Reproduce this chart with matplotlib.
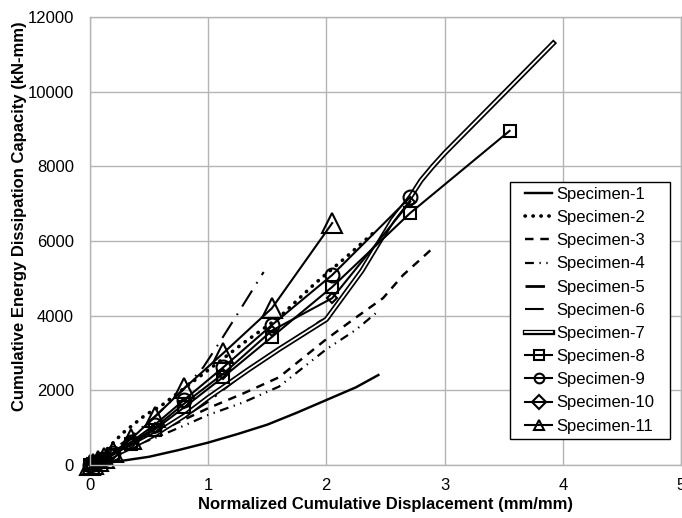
import matplotlib
matplotlib.use('Agg')
import matplotlib.pyplot as plt
import matplotlib.patheffects as pe
from matplotlib.lines import Line2D
from matplotlib.legend_handler import HandlerLine2D

plt.rcParams['font.family'] = ['Liberation Sans', 'DejaVu Sans']
plt.rcParams['font.size'] = 12

# marker stations shared by specimens 8-11
mk_x = [0, 0.03, 0.07, 0.12, 0.2, 0.35, 0.55, 0.8, 1.13, 1.54, 2.05, 2.71, 3.55]

s1_x = [0, 0.1, 0.2, 0.35, 0.5, 0.75, 1.0, 1.25, 1.5, 1.75, 2.0, 2.25, 2.44]
s1_y = [0, 40, 80, 150, 220, 400, 600, 830, 1080, 1400, 1740, 2080, 2410]

s2_x = [0, 0.1, 0.28, 0.47, 0.6, 0.8, 1.0, 1.3, 1.6, 1.9, 2.17, 2.42]
s2_y = [0, 280, 860, 1340, 1580, 2060, 2540, 3270, 3950, 4850, 5575, 6280]

s3_x = [0, 0.1, 0.2, 0.35, 0.57, 0.8, 1.0, 1.3, 1.6, 2.0, 2.25, 2.48, 2.65, 2.79, 2.89]
s3_y = [0, 170, 330, 560, 880, 1220, 1520, 1920, 2350, 3370, 3950, 4470, 5090, 5490, 5780]

s4_x = [0, 0.1, 0.2, 0.35, 0.57, 0.8, 1.0, 1.3, 1.6, 2.0, 2.25, 2.45]
s4_y = [0, 150, 290, 480, 750, 1060, 1340, 1680, 2100, 3100, 3620, 4150]

s5_x = [0, 0.1, 0.2, 0.35, 0.55, 0.8, 1.0, 1.3, 1.6, 1.95, 2.03]
s5_y = [0, 150, 300, 520, 830, 1300, 1700, 2450, 3100, 3850, 3950]

s6_x = [0, 0.1, 0.2, 0.35, 0.55, 0.8, 0.96, 1.1, 1.25, 1.47]
s6_y = [0, 220, 420, 760, 1300, 2050, 2620, 3300, 4050, 5170]

s7_x = [0, 0.1, 0.2, 0.35, 0.55, 0.8, 1.0, 1.34, 1.6, 2.0, 2.3, 2.56, 2.71, 2.8, 2.9, 3.0, 3.5, 3.92]
s7_y = [0, 130, 260, 480, 820, 1320, 1800, 2550, 3100, 3900, 5200, 6560, 7175, 7620, 8000, 8350, 9950, 11300]

s8_y = [0, 30, 80, 150, 280, 560, 950, 1550, 2360, 3430, 4770, 6750, 8950]
s9_y = [0, 35, 90, 170, 320, 620, 1080, 1750, 2620, 3750, 5090, 7175]
s10_y = [0, 30, 80, 150, 290, 580, 1000, 1650, 2450, 3600, 4470, 7050]
s11_y = [0, 40, 100, 190, 340, 700, 1290, 2060, 3000, 4200, 6480]

fig = plt.figure(figsize=(6.82, 5.18), dpi=100)
ax = fig.add_axes([0.1317, 0.1023, 0.8669, 0.8649])

k = 'black'
ax.plot(s1_x, s1_y, color=k, lw=1.75, label='Specimen-1')
ax.plot(s2_x, s2_y, color=k, lw=2.6, linestyle=(0, (0.1, 2.1)),
        dash_capstyle='round', label='Specimen-2')
ax.plot(s3_x, s3_y, color=k, lw=1.75, linestyle=(0, (3.5, 2.8)), label='Specimen-3')
ax.plot(s4_x, s4_y, color=k, lw=1.6, linestyle=(0, (4, 2.5, 0.6, 2.5, 0.6, 2.5)),
        label='Specimen-4')
ax.plot(s5_x, s5_y, color=k, lw=2.0, linestyle=(0, (7, 3, 0.8, 3)), label='Specimen-5')
ax.plot(s6_x, s6_y, color=k, lw=1.5, linestyle=(0, (9, 4, 0.8, 4)), label='Specimen-6')
ax.plot(s7_x, s7_y, color='white', lw=1.3, label='Specimen-7',
        path_effects=[pe.Stroke(linewidth=3.8, foreground=k), pe.Normal()])
ax.plot(mk_x[:len(s8_y)], s8_y, color=k, lw=1.5, marker='s', ms=9, mfc='none',
        mec=k, mew=1.5, clip_on=False, label='Specimen-8')
ax.plot(mk_x[:len(s9_y)], s9_y, color=k, lw=1.5, marker='o', ms=10, mfc='none',
        mec=k, mew=1.5, clip_on=False, label='Specimen-9')
ax.plot(mk_x[:len(s10_y)], s10_y, color=k, lw=1.5, marker='D', ms=5, mfc='none',
        mec=k, mew=1.5, clip_on=False, label='Specimen-10')
ax.plot(mk_x[:len(s11_y)], s11_y, color=k, lw=1.5, marker='^', ms=14, mfc='none',
        mec=k, mew=1.5, clip_on=False, label='Specimen-11')

ax.set_xlim(0, 5)
ax.set_ylim(0, 12000)
ax.set_xticks([0, 1, 2, 3, 4, 5])
ax.set_yticks([0, 2000, 4000, 6000, 8000, 10000, 12000])
ax.grid(True, color='#b4b4b4', lw=1)
ax.set_axisbelow(True)
for s in ax.spines.values():
    s.set_color('#b4b4b4')
    s.set_linewidth(1)
ax.tick_params(length=0, labelsize=12)
ax.tick_params(axis='y', pad=11.5)
ax.tick_params(axis='x', pad=9)

ax.set_xlabel('Normalized Cumulative Displacement (mm/mm)', fontsize=12, fontweight='bold')
ax.set_ylabel('Cumulative Energy Dissipation Capacity (kN-mm)', fontsize=12, fontweight='bold')
ax.xaxis.set_label_coords(0.5, -0.072)
ax.yaxis.set_label_coords(-0.107, 0.556)

leg = ax.legend(loc='upper left', bbox_to_anchor=(0.711, 0.0, 0.2706, 0.632),
                mode='expand', borderaxespad=0,
                fancybox=False, edgecolor=k, framealpha=1, fontsize=12,
                handlelength=2.2, handletextpad=0.25, labelspacing=0.49,
                borderpad=0.3, handler_map={Line2D: HandlerLine2D(xpad=0.6)})
leg.get_frame().set_linewidth(1)
for h in leg.legend_handles:
    h.set_markersize(7)

fig.savefig('out.png', dpi=100)
